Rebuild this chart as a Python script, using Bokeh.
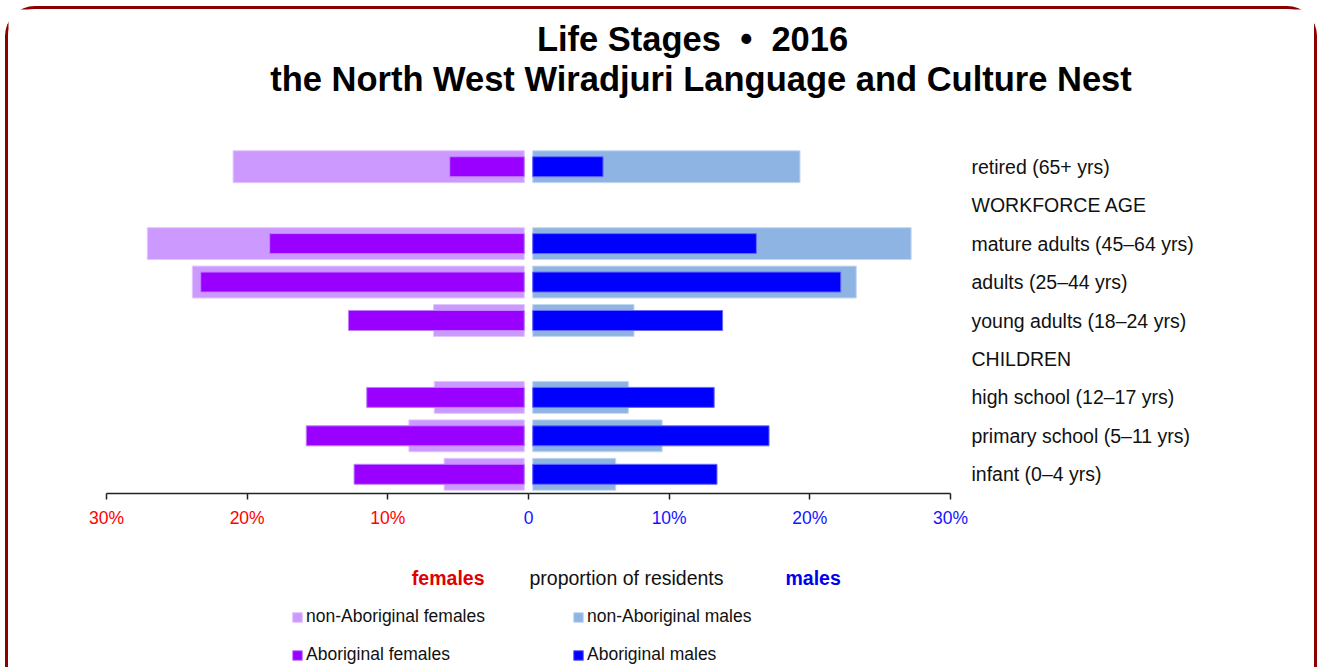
from bokeh.plotting import figure
from bokeh.models import (ColumnDataSource, FixedTicker, LinearAxis, Range1d,
                          Label, Legend, LegendItem)
from bokeh.embed import file_html
from bokeh.resources import INLINE

NAN = float("nan")

# ---- data (percent of residents) ----
categories = ["infant (0–4 yrs)", "primary school (5–11 yrs)", "high school (12–17 yrs)",
              "CHILDREN", "young adults (18–24 yrs)", "adults (25–44 yrs)",
              "mature adults (45–64 yrs)", "WORKFORCE AGE", "retired (65+ yrs)"]
nonab_females = [6.0, 8.5, 6.7, NAN, 6.75, 23.9, 27.1, NAN, 21.0]
ab_females    = [12.4, 15.8, 11.5, NAN, 12.8, 23.3, 18.4, NAN, 5.6]
nonab_males   = [6.2, 9.5, 7.1, NAN, 7.5, 23.3, 27.2, NAN, 19.3]
ab_males      = [13.4, 17.1, 13.2, NAN, 13.8, 22.2, 16.2, NAN, 5.3]
female_ticks = [-30, -20, -10]
female_tick_labels = ["30%", "20%", "10%"]
male_ticks = [0, 10, 20, 30]
male_tick_labels = ["0", "10%", "20%", "30%"]
title_lines = ["Life Stages\u00a0\u00a0\u2022\u00a0\u00a02016",
               "the North West Wiradjuri Language and Culture Nest"]

FONT = "Liberation Sans"
GAP = 0.3

C_NF, C_AF = "#CC99FF", "#9900FF"
C_NM, C_AM = "#8EB4E3", "#0000FF"

# ---- layout (canvas pixels) ----
W, H = 1306, 658
PX_X = 844 / 60.0          # pixels per percent
PX_Y = 346 / 9.0           # pixels per row
X0_PX = 520                # canvas x of 0 %
YB_PX = 484                # canvas y (from top) of the axis line (row -0.5)
x_start = -X0_PX / PX_X
x_end = (W - X0_PX) / PX_X
y_start = -0.5 - (H - YB_PX) / PX_Y
y_end = -0.5 + YB_PX / PX_Y

ys = list(range(len(categories)))
src = ColumnDataSource(dict(
    y=ys,
    nf_l=[-v for v in nonab_females], nf_r=[-GAP] * len(ys),
    af_l=[-v for v in ab_females], af_r=[-GAP] * len(ys),
    nm_l=[GAP] * len(ys), nm_r=nonab_males,
    am_l=[GAP] * len(ys), am_r=ab_males,
))

p = figure(frame_width=W, frame_height=H,
           x_range=Range1d(x_start, x_end), y_range=Range1d(y_start, y_end),
           min_border=0, x_axis_location=None, y_axis_location=None,
           output_backend="svg", toolbar_location=None)
p.grid.visible = False
p.outline_line_color = None
p.background_fill_color = "white"
p.border_fill_color = "white"
p.styles = {"border": "3px solid #8B0000", "border-bottom": "none",
            "border-radius": "30px 30px 0 0", "margin-left": "5px", "margin-top": "6px"}

OUT_H, IN_H = 0.83, 0.52
r_nf = p.hbar(y="y", left="nf_l", right="nf_r", height=OUT_H, source=src,
              fill_color=C_NF, line_color="#E2C6FF", line_width=1)
r_nm = p.hbar(y="y", left="nm_l", right="nm_r", height=OUT_H, source=src,
              fill_color=C_NM, line_color="#C4D7F0", line_width=1)
r_af = p.hbar(y="y", left="af_l", right="af_r", height=IN_H, source=src,
              fill_color=C_AF, line_color="#C080FF", line_width=1)
r_am = p.hbar(y="y", left="am_l", right="am_r", height=IN_H, source=src,
              fill_color=C_AM, line_color="#6A6AFF", line_width=1)


def x_axis(ticks, labels, bounds, color):
    ax = LinearAxis(ticker=FixedTicker(ticks=ticks),
                    major_label_overrides=dict(zip(ticks, labels)),
                    fixed_location=-0.5, bounds=bounds)
    ax.axis_line_color = "#222222"
    ax.axis_line_width = 1.5
    ax.major_tick_line_color = "#222222"
    ax.major_tick_line_width = 1.5
    ax.major_tick_in = 0
    ax.major_tick_out = 6
    ax.minor_tick_line_color = None
    ax.major_label_standoff = 8
    ax.major_label_text_font = FONT
    ax.major_label_text_font_size = "17.5px"
    ax.major_label_text_color = color
    p.add_layout(ax, "below")


x_axis(female_ticks, female_tick_labels, (-30, 0), "#FF0000")
x_axis(male_ticks, male_tick_labels, (0, 30), "#1414FF")

# right category axis
yaxis = LinearAxis(ticker=FixedTicker(ticks=ys),
                   major_label_overrides={i: c for i, c in enumerate(categories)},
                   fixed_location=30)
yaxis.axis_line_color = None
yaxis.major_tick_line_color = None
yaxis.minor_tick_line_color = None
yaxis.major_tick_in = 0
yaxis.major_tick_out = 0
yaxis.major_label_standoff = 21
yaxis.major_label_text_font = FONT
yaxis.major_label_text_font_size = "19.5px"
yaxis.major_label_text_color = "#111111"
p.add_layout(yaxis, "right")

# titles
p.add_layout(Label(x=11.66, y=11.33, text=title_lines[0], text_align="center",
                   text_baseline="alphabetic", text_font=FONT, text_font_style="bold",
                   text_font_size="34.5px", text_color="black"))
p.add_layout(Label(x=12.26, y=10.29, text=title_lines[1], text_align="center",
                   text_baseline="alphabetic", text_font=FONT, text_font_style="bold",
                   text_font_size="34.5px", text_color="black"))

# axis caption row
CAP_Y = -2.70
p.add_layout(Label(x=-3.128, y=CAP_Y, text="females", text_align="right",
                   text_baseline="alphabetic", text_font=FONT, text_font_style="bold",
                   text_font_size="19.5px", text_color="#E00000"))
p.add_layout(Label(x=0.07, y=CAP_Y, text="proportion of residents", text_align="left",
                   text_baseline="alphabetic", text_font=FONT,
                   text_font_size="19.5px", text_color="#111111"))
p.add_layout(Label(x=18.27, y=CAP_Y, text="males", text_align="left",
                   text_baseline="alphabetic", text_font=FONT, text_font_style="bold",
                   text_font_size="19.5px", text_color="#0000EE"))

legend = Legend(items=[
    LegendItem(label="non-Aboriginal females", renderers=[r_nf]),
    LegendItem(label="Aboriginal females", renderers=[r_af]),
    LegendItem(label="non-Aboriginal males", renderers=[r_nm]),
    LegendItem(label="Aboriginal males", renderers=[r_am]),
], location=(283, 2), orientation="vertical", nrows=2,
    glyph_width=12, glyph_height=12, label_standoff=3, spacing=17,
    padding=0, margin=0, border_line_color=None, background_fill_alpha=0,
    label_text_font=FONT, label_text_font_size="17.5px", label_text_color="#111111",
    label_width=249, label_height=20)
p.add_layout(legend)

open("out.html", "w").write(file_html(p, INLINE))
